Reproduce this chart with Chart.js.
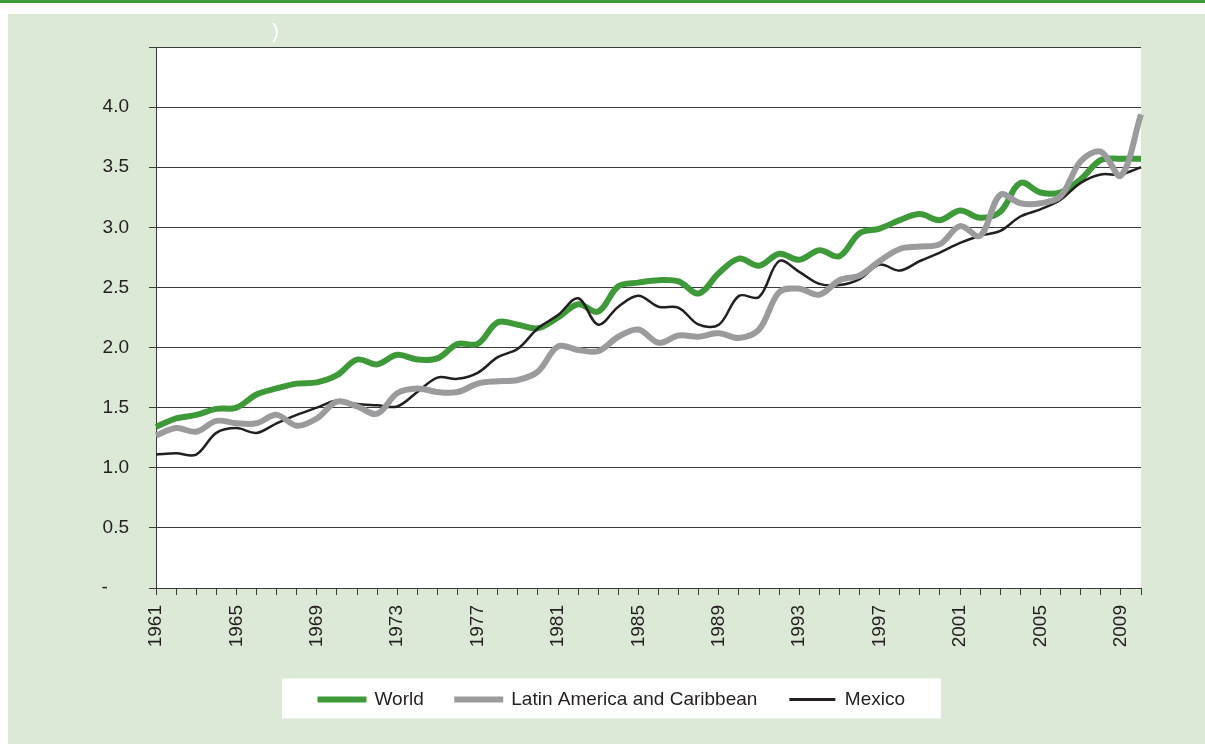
<!DOCTYPE html>
<html>
<head>
<meta charset="utf-8">
<script src="https://cdn.jsdelivr.net/npm/chart.js@4.4.1/dist/chart.umd.min.js"></script>
<style>
  html, body { margin: 0; padding: 0; background: #ffffff; }
  canvas { display: block; }
</style>
</head>
<body>
<canvas id="chart" width="1205" height="744"></canvas>
<script>
// Years on the horizontal axis
const years = ['1961','1962','1963','1964','1965','1966','1967','1968','1969','1970',
  '1971','1972','1973','1974','1975','1976','1977','1978','1979','1980',
  '1981','1982','1983','1984','1985','1986','1987','1988','1989','1990',
  '1991','1992','1993','1994','1995','1996','1997','1998','1999','2000',
  '2001','2002','2003','2004','2005','2006','2007','2008','2009','2010'];

// Years that carry a printed label
const labeledYears = ['1961','1965','1969','1973','1977','1981','1985','1989','1993','1997','2001','2005','2009'];

// Series values
const world = [1.34,1.41,1.44,1.49,1.50,1.61,1.66,1.70,1.71,1.77,
  1.90,1.86,1.94,1.90,1.91,2.03,2.03,2.21,2.19,2.16,
  2.25,2.36,2.30,2.51,2.54,2.56,2.55,2.45,2.62,2.74,
  2.68,2.78,2.73,2.81,2.76,2.95,2.99,3.06,3.11,3.06,
  3.14,3.08,3.13,3.37,3.29,3.29,3.40,3.56,3.57,3.57];

const latinAmerica = [1.27,1.33,1.30,1.39,1.37,1.37,1.44,1.35,1.41,1.55,
  1.51,1.45,1.62,1.66,1.63,1.63,1.70,1.72,1.73,1.80,
  2.01,1.98,1.97,2.09,2.15,2.04,2.10,2.09,2.12,2.08,
  2.15,2.46,2.49,2.44,2.56,2.60,2.72,2.82,2.84,2.86,
  3.01,2.93,3.27,3.20,3.20,3.26,3.55,3.63,3.43,3.94];

const mexico = [1.11,1.12,1.11,1.29,1.33,1.29,1.37,1.44,1.50,1.56,
  1.53,1.52,1.51,1.63,1.75,1.74,1.79,1.92,1.99,2.16,
  2.27,2.41,2.19,2.34,2.43,2.34,2.33,2.19,2.19,2.43,
  2.42,2.72,2.63,2.53,2.52,2.57,2.69,2.64,2.72,2.79,
  2.87,2.93,2.97,3.09,3.15,3.23,3.37,3.44,3.44,3.50];

// Value-axis tick labels, bottom to top (0 to 4.5)
const yTickLabels = ['-    ', '0.5', '1.0', '1.5', '2.0', '2.5', '3.0', '3.5', '4.0', ''];

// Legend order
const legendOrder = ['World', 'Latin America and Caribbean', 'Mexico'];

const FONT = '"Liberation Sans", Arial, sans-serif';
const FONT_SIZE = 19;
const TEXT = '#231f20';
const RULE = '#3a3a3a';

// Page frame, plot fill and legend backdrop
const framePlugin = {
  id: 'frame',
  beforeDraw(chart) {
    const { ctx, chartArea: a, width, height } = chart;
    ctx.save();
    ctx.fillStyle = '#ffffff';
    ctx.fillRect(0, 0, width, height);
    ctx.fillStyle = '#3e9a39';
    ctx.fillRect(0, 0, width, 3);
    ctx.fillStyle = '#dde9d7';
    ctx.fillRect(8, 14, width - 8, height - 14);
    ctx.fillStyle = '#ffffff';
    ctx.fillRect(a.left, a.top, a.right - a.left, a.bottom - a.top);

    const boxes = chart.legend && chart.legend.legendHitBoxes;
    if (boxes && boxes.length) {
      const first = boxes[0];
      const last = boxes[boxes.length - 1];
      const left = first.left - 37;
      const right = last.left + last.width + 36;
      ctx.fillRect(left, first.top - 11.5, right - left, 40);
    }

    ctx.fillStyle = '#ffffff';
    ctx.font = '21px ' + FONT;
    ctx.textBaseline = 'alphabetic';
    ctx.fillText(')', 272, 38);
    ctx.restore();
  }
};

const datasets = [
  { label: 'Latin America and Caribbean', data: latinAmerica, borderColor: '#9b9b9e', borderWidth: 6, legendStroke: 3 },
  { label: 'Mexico', data: mexico, borderColor: '#231f20', borderWidth: 2.5, legendStroke: 0 },
  { label: 'World', data: world, borderColor: '#3e9a39', borderWidth: 6, legendStroke: 3 }
];

new Chart(document.getElementById('chart'), {
  type: 'line',
  data: { labels: years, datasets },
  plugins: [framePlugin],
  options: {
    responsive: false,
    animation: false,
    devicePixelRatio: 1,
    layout: { padding: { left: 83, right: 64, top: 47, bottom: 25 } },
    elements: {
      point: { radius: 0, hoverRadius: 0 },
      line: { tension: 0.35, fill: false, borderJoinStyle: 'round', borderCapStyle: 'butt' }
    },
    plugins: {
      tooltip: { enabled: false },
      legend: {
        position: 'bottom',
        labels: {
          font: { family: FONT, size: FONT_SIZE },
          color: TEXT,
          boxWidth: 46,
          boxHeight: 3,
          padding: 32,
          generateLabels(chart) {
            return legendOrder.map(name => {
              const i = chart.data.datasets.findIndex(d => d.label === name);
              const ds = chart.data.datasets[i];
              return {
                text: ds.label,
                fillStyle: ds.borderColor,
                strokeStyle: ds.borderColor,
                lineWidth: ds.legendStroke,
                fontColor: TEXT,
                hidden: false,
                datasetIndex: i
              };
            });
          }
        }
      }
    },
    scales: {
      x: {
        type: 'category',
        offset: false,
        grid: { display: true, drawOnChartArea: false, drawTicks: true, tickLength: 7, color: RULE },
        border: { display: true, color: RULE, width: 1 },
        ticks: {
          autoSkip: false,
          minRotation: 90,
          maxRotation: 90,
          padding: 10,
          color: TEXT,
          font: { family: FONT, size: FONT_SIZE },
          callback(value, index) {
            const y = years[index];
            return labeledYears.includes(y) ? y : '';
          }
        },
        afterFit(scale) { scale.height = 70; }
      },
      y: {
        min: 0,
        max: 4.5,
        grid: { color: RULE, tickLength: 7, drawTicks: true },
        border: { display: true, color: RULE, width: 1 },
        ticks: {
          stepSize: 0.5,
          padding: 20,
          color: TEXT,
          font: { family: FONT, size: FONT_SIZE },
          callback(value, index) { return yTickLabels[index]; }
        },
        afterFit(scale) { scale.width = 73; }
      }
    }
  }
});
</script>
</body>
</html>
